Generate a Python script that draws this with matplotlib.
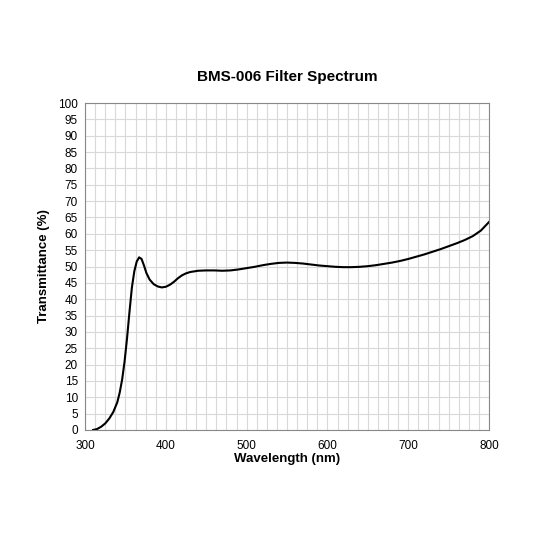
import numpy as np
import matplotlib.pyplot as plt

plt.rcParams["font.family"] = ["Liberation Sans", "DejaVu Sans"]

# values
wavelength = [310, 315, 320, 325, 330, 335, 340, 343, 346, 349, 352, 355, 358, 361, 364,
              367, 370, 373, 376, 380, 385, 390, 395, 400, 405, 410, 415, 420, 425, 430,
              440, 450, 460, 470, 480, 490, 500, 510, 520, 530, 540, 550, 560, 570, 580,
              590, 600, 610, 620, 630, 640, 650, 660, 670, 680, 690, 700, 710, 720, 730,
              740, 750, 760, 770, 780, 790, 800]
transmittance = [0.0, 0.3, 1.0, 2.0, 3.5, 5.5, 8.5, 11.5, 15.5, 21, 28, 36, 43.5, 48.5, 51.5,
                 52.8, 52.3, 50.3, 48.0, 46.0, 44.6, 43.9, 43.6, 43.8, 44.4, 45.3, 46.4, 47.3, 47.9, 48.3,
                 48.7, 48.8, 48.8, 48.7, 48.8, 49.1, 49.5, 49.9, 50.4, 50.8, 51.1, 51.2, 51.1, 50.9, 50.6,
                 50.3, 50.1, 49.9, 49.8, 49.8, 49.9, 50.1, 50.4, 50.8, 51.2, 51.7, 52.3, 53.0, 53.7, 54.5,
                 55.3, 56.2, 57.1, 58.1, 59.3, 61.0, 63.6]

fig = plt.figure(figsize=(5.33, 5.33), dpi=100)
ax = fig.add_axes([85/533, 103/533, 404/533, 327/533])

ax.plot(wavelength, transmittance, color="black", lw=1.5)

ax.set_xlim(300, 800)
ax.set_ylim(0, 100)
ax.set_xticks(np.arange(300, 801, 100))
ax.set_yticks(np.arange(0, 101, 5))
ax.set_xticks(np.arange(300, 801, 12.5), minor=True)
ax.grid(True, which="both", color="#d9d9d9", lw=0.8)
ax.set_axisbelow(True)
ax.tick_params(which="both", length=0, labelsize=8.5)
ax.tick_params(axis="x", pad=7)
ax.tick_params(axis="y", pad=5)
for s in ax.spines.values():
    s.set_color("#888888")

ax.set_title("BMS-006 Filter Spectrum", fontsize=11, fontweight="bold", pad=16)
ax.set_xlabel("Wavelength (nm)", fontsize=9.5, fontweight="bold", labelpad=1)
ax.set_ylabel("Transmittance (%)", fontsize=9.5, fontweight="bold", labelpad=6)

fig.savefig("out.png", dpi=100)
